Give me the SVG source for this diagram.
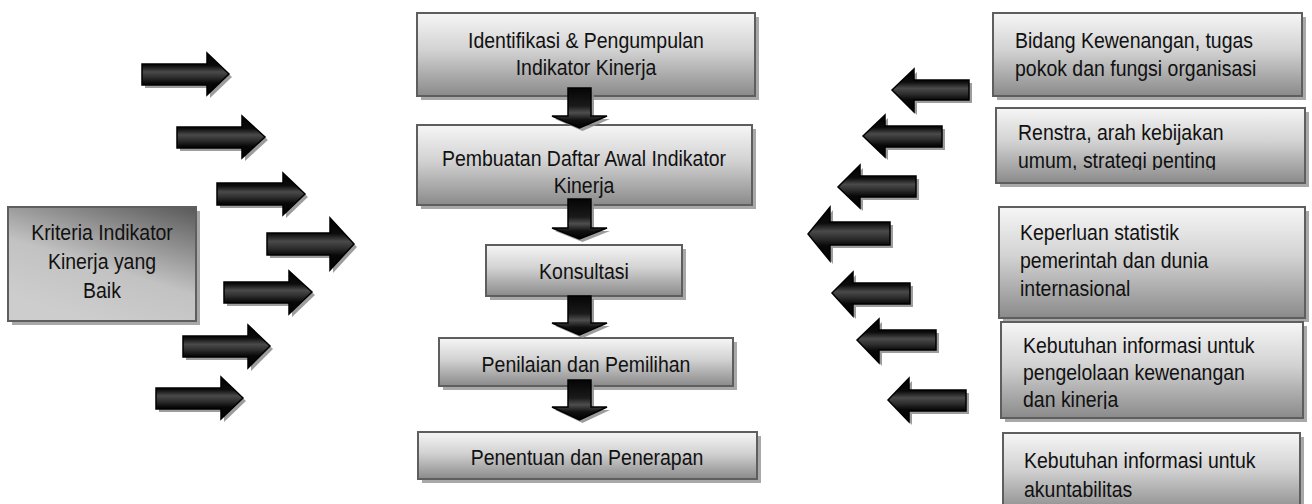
<svg xmlns="http://www.w3.org/2000/svg" width="1312" height="504" viewBox="0 0 1312 504">
<style>
.box{stroke:#5e5e5e;stroke-width:2;fill:url(#gBox)}
.sbox{fill:#a8a8a8}
.t{font-family:"Liberation Sans",Arial,sans-serif;font-size:22px;fill:#111}
.arrH{fill:url(#gArrH);stroke:#000;stroke-width:1.5;stroke-linejoin:miter}
.arrV{fill:url(#gArrV);stroke:#000;stroke-width:1.5;stroke-linejoin:miter}
.ash{fill:#8c8c8c;opacity:0.85}
</style>
<defs>
<linearGradient id="gBox" x1="0" y1="0" x2="0" y2="1">
<stop offset="0" stop-color="#f6f6f6"/><stop offset="0.45" stop-color="#d2d2d2"/><stop offset="1" stop-color="#8a8a8a"/>
</linearGradient>
<linearGradient id="gLeft" x1="0.95" y1="0" x2="0.45" y2="1">
<stop offset="0" stop-color="#5c5c5c"/><stop offset="0.6" stop-color="#c2c2c2"/><stop offset="1" stop-color="#cdcdcd"/>
</linearGradient>
<linearGradient id="gArrH" x1="0" y1="0" x2="0" y2="1">
<stop offset="0" stop-color="#000"/><stop offset="0.3" stop-color="#0c0c0c"/><stop offset="0.45" stop-color="#4a4a4a"/><stop offset="0.58" stop-color="#2e2e2e"/><stop offset="0.72" stop-color="#080808"/><stop offset="1" stop-color="#000"/>
</linearGradient>
<linearGradient id="gArrV" x1="0" y1="0" x2="0" y2="1">
<stop offset="0" stop-color="#050505"/><stop offset="0.45" stop-color="#1a1a1a"/><stop offset="0.62" stop-color="#4e4e4e"/><stop offset="0.8" stop-color="#111"/><stop offset="1" stop-color="#000"/>
</linearGradient>
<clipPath id="clipR2"><rect x="990" y="100" width="322" height="70"/></clipPath>
<clipPath id="clipR4"><rect x="990" y="320" width="322" height="89"/></clipPath>
<path id="a1" d="M142,64 H207 V53 L229,74 L207,95 V85 H142 Z"/>
<path id="a2" d="M177,127 H242 V116 L265,137 L242,158 V148 H177 Z"/>
<path id="a3" d="M217,183 H283 V173 L305,194 L283,215 V205 H217 Z"/>
<path id="a4" d="M267,233 H330 V218 L354,244 L330,270 V255 H267 Z"/>
<path id="a5" d="M224,282 H289 V271 L312,292 L289,314 V303 H224 Z"/>
<path id="a6" d="M183,336 H248 V325 L270,346 L248,368 V357 H183 Z"/>
<path id="a7" d="M156,388 H221 V377 L243,398 L221,419 V409 H156 Z"/>
<path id="b1" d="M969,80 H914 V69 L892,90 L914,112 V100 H969 Z"/>
<path id="b2" d="M942,126 H885 V115 L863,136 L885,157 V147 H942 Z"/>
<path id="b3" d="M916,176 H860 V165 L838,187 L860,208 V197 H916 Z"/>
<path id="b4" d="M890,222 H830 V207 L808,234 L830,261 V245 H890 Z"/>
<path id="b5" d="M910,283 H853 V272 L832,293 L853,316 V304 H910 Z"/>
<path id="b6" d="M936,330 H879 V319 L857,340 L879,363 V350 H936 Z"/>
<path id="b7" d="M966,390 H909 V378 L888,400 L909,422 V411 H966 Z"/>
<path id="d1" d="M568,88 H591 V116 H607 L579.5,128 L552,116 H568 Z"/>
<path id="d2" d="M568,199 H591 V228 H607 L579.5,239 L552,228 H568 Z"/>
<path id="d3" d="M568,296 H591 V323 H607 L579.5,335 L552,323 H568 Z"/>
<path id="d4" d="M568,380 H591 V407 H607 L579.5,420 L552,407 H568 Z"/>
</defs>
<rect width="1312" height="504" fill="#fff"/>

<g id="node-kriteria">
<rect class="sbox" x="12" y="211" width="188" height="114"/>
<rect x="8" y="207" width="188" height="114" fill="url(#gLeft)" stroke="#5e5e5e" stroke-width="2"/>
<text class="t" text-anchor="middle" transform="translate(102 0) scale(0.885 1)"><tspan x="0" y="240">Kriteria Indikator</tspan><tspan x="0" y="269">Kinerja yang</tspan><tspan x="0" y="298">Baik</tspan></text>
</g>

<g id="node-identifikasi">
<rect class="sbox" x="421" y="17" width="338" height="83"/>
<rect class="box" x="417" y="13" width="338" height="83"/>
<text class="t" text-anchor="middle" transform="translate(586 0) scale(0.885 1)"><tspan x="0" y="48">Identifikasi &amp; Pengumpulan</tspan><tspan x="0" y="75">Indikator Kinerja</tspan></text>
</g>

<g id="node-pembuatan">
<rect class="sbox" x="421" y="129" width="335" height="80"/>
<rect class="box" x="417" y="125" width="335" height="80"/>
<text class="t" text-anchor="middle" transform="translate(584 0) scale(0.885 1)"><tspan x="0" y="166">Pembuatan Daftar Awal Indikator</tspan><tspan x="0" y="193">Kinerja</tspan></text>
</g>

<g id="node-konsultasi">
<rect class="sbox" x="490" y="249" width="196" height="51"/>
<rect class="box" x="486" y="245" width="196" height="51"/>
<text class="t" text-anchor="middle" transform="translate(584 0) scale(0.885 1)" x="0" y="279">Konsultasi</text>
</g>

<g id="node-penilaian">
<rect class="sbox" x="443" y="342" width="294" height="48"/>
<rect class="box" x="439" y="338" width="294" height="48"/>
<text class="t" text-anchor="middle" transform="translate(586 0) scale(0.885 1)" x="0" y="372">Penilaian dan Pemilihan</text>
</g>

<g id="node-penentuan">
<rect class="sbox" x="422" y="436" width="339" height="47"/>
<rect class="box" x="418" y="432" width="339" height="47"/>
<text class="t" text-anchor="middle" transform="translate(587 0) scale(0.885 1)" x="0" y="465">Penentuan dan Penerapan</text>
</g>

<g id="node-bidang">
<rect class="sbox" x="997" y="17" width="309" height="83"/>
<rect class="box" x="993" y="13" width="309" height="83"/>
<text class="t" transform="translate(1015 0) scale(0.885 1)"><tspan x="0" y="48">Bidang Kewenangan, tugas</tspan><tspan x="0" y="76">pokok dan fungsi organisasi</tspan></text>
</g>

<g id="node-renstra">
<rect class="sbox" x="1000" y="112" width="309" height="75"/>
<rect class="box" x="996" y="108" width="309" height="75"/>
<g clip-path="url(#clipR2)">
<text class="t" transform="translate(1018 0) scale(0.885 1)"><tspan x="0" y="140">Renstra, arah kebijakan</tspan><tspan x="0" y="168">umum, strategi penting</tspan></text>
</g>
</g>

<g id="node-keperluan">
<rect class="sbox" x="1003" y="211" width="306" height="111"/>
<rect class="box" x="999" y="207" width="306" height="111"/>
<text class="t" transform="translate(1020 0) scale(0.885 1)"><tspan x="0" y="240">Keperluan statistik</tspan><tspan x="0" y="268">pemerintah dan dunia</tspan><tspan x="0" y="296">internasional</tspan></text>
</g>

<g id="node-kebutuhan-kinerja">
<rect class="sbox" x="1005" y="326" width="302" height="96"/>
<rect class="box" x="1001" y="322" width="302" height="96"/>
<g clip-path="url(#clipR4)">
<text class="t" transform="translate(1023 0) scale(0.885 1)"><tspan x="0" y="353">Kebutuhan informasi untuk</tspan><tspan x="0" y="380">pengelolaan kewenangan</tspan><tspan x="0" y="407">dan kinerja</tspan></text>
</g>
</g>

<g id="node-kebutuhan-akuntabilitas">
<rect class="sbox" x="1007" y="437" width="297" height="80"/>
<rect class="box" x="1003" y="433" width="297" height="80"/>
<text class="t" transform="translate(1024 0) scale(0.885 1)"><tspan x="0" y="468">Kebutuhan informasi untuk</tspan><tspan x="0" y="497">akuntabilitas</tspan></text>
</g>

<g id="connectors">
<use href="#a1" class="ash" transform="translate(3 3)"/><use href="#a1" class="arrH"/>
<use href="#a2" class="ash" transform="translate(3 3)"/><use href="#a2" class="arrH"/>
<use href="#a3" class="ash" transform="translate(3 3)"/><use href="#a3" class="arrH"/>
<use href="#a4" class="ash" transform="translate(3 3)"/><use href="#a4" class="arrH"/>
<use href="#a5" class="ash" transform="translate(3 3)"/><use href="#a5" class="arrH"/>
<use href="#a6" class="ash" transform="translate(3 3)"/><use href="#a6" class="arrH"/>
<use href="#a7" class="ash" transform="translate(3 3)"/><use href="#a7" class="arrH"/>
<use href="#b1" class="ash" transform="translate(3 3)"/><use href="#b1" class="arrH"/>
<use href="#b2" class="ash" transform="translate(3 3)"/><use href="#b2" class="arrH"/>
<use href="#b3" class="ash" transform="translate(3 3)"/><use href="#b3" class="arrH"/>
<use href="#b4" class="ash" transform="translate(3 3)"/><use href="#b4" class="arrH"/>
<use href="#b5" class="ash" transform="translate(3 3)"/><use href="#b5" class="arrH"/>
<use href="#b6" class="ash" transform="translate(3 3)"/><use href="#b6" class="arrH"/>
<use href="#b7" class="ash" transform="translate(3 3)"/><use href="#b7" class="arrH"/>
<use href="#d1" class="ash" transform="translate(3 3)"/><use href="#d1" class="arrV"/>
<use href="#d2" class="ash" transform="translate(3 3)"/><use href="#d2" class="arrV"/>
<use href="#d3" class="ash" transform="translate(3 3)"/><use href="#d3" class="arrV"/>
<use href="#d4" class="ash" transform="translate(3 3)"/><use href="#d4" class="arrV"/>
</g>
</svg>
